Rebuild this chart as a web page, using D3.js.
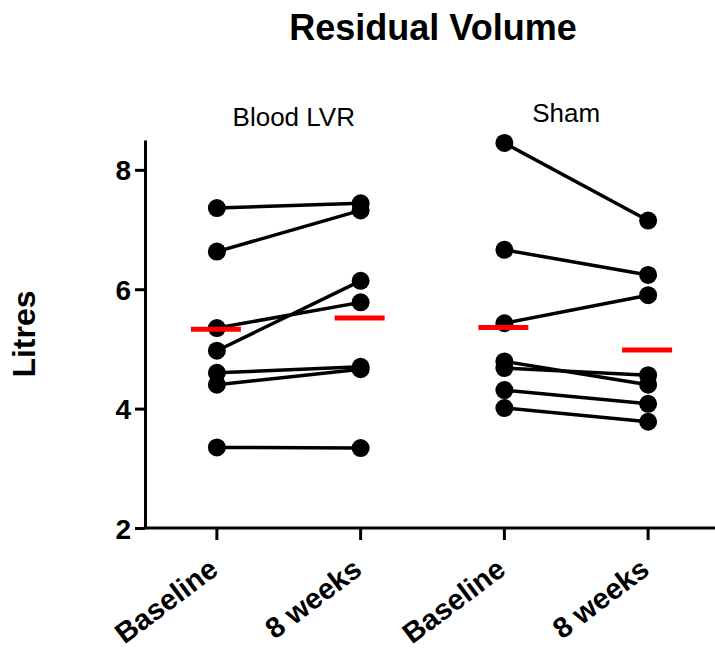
<!DOCTYPE html>
<html>
<head>
<meta charset="utf-8">
<script src="https://cdn.jsdelivr.net/npm/d3@7"></script>
<style>
  body { margin: 0; background: #fff; }
  text { font-family: "Liberation Sans", Arial, sans-serif; }
</style>
</head>
<body>
<div class="chart"></div>
<script>
// values (litres)
var categories = ["Baseline", "8 weeks", "Baseline", "8 weeks"];
var groups = ["Blood LVR", "Sham"];
var lvrBaseline = [7.36, 6.63, 5.35, 4.97, 4.60, 4.40, 3.35];
var lvrWeek8 = [7.44, 7.32, 5.78, 6.14, 4.70, 4.66, 3.34];
var shamBaseline = [8.45, 6.66, 5.43, 4.79, 4.68, 4.31, 4.01];
var shamWeek8 = [7.15, 6.24, 5.90, 4.40, 4.56, 4.08, 3.78];
var lvrMeans = [5.33, 5.52];
var shamMeans = [5.36, 4.98];
var yTicks = [2, 4, 6, 8];

var width = 715,
    height = 650;

var svg = d3.select(".chart")
    .append("svg")
    .attr("width", width)
    .attr("height", height);

var x = d3.scaleBand()
    .domain([0, 1, 2, 3])
    .range([145, 720]);

var y = d3.scaleLinear()
    .domain([2, 8.5])
    .range([528, 140]);

function cx(i) {
    return x(i) + x.bandwidth() / 2;
}

// pairs: [category index of baseline, baseline value, follow-up value]
var pairs = [];
lvrBaseline.forEach(function (v, i) { pairs.push([0, v, lvrWeek8[i]]); });
shamBaseline.forEach(function (v, i) { pairs.push([2, v, shamWeek8[i]]); });

var points = [];
pairs.forEach(function (p) {
    points.push([p[0], p[1]]);
    points.push([p[0] + 1, p[2]]);
});

var means = [[0, lvrMeans[0]], [1, lvrMeans[1]], [2, shamMeans[0]], [3, shamMeans[1]]];

// title
svg.append("text")
    .attr("x", 433)
    .attr("y", 40)
    .attr("text-anchor", "middle")
    .style("font-size", "36px")
    .style("font-weight", "bold")
    .text("Residual Volume");

// group labels (shifted a little off the group centre, like the original)
var groupShift = [5, -10];
svg.selectAll(".group")
    .data(groups)
    .enter()
    .append("text")
    .attr("class", "group")
    .attr("x", function (d, i) { return (cx(i * 2) + cx(i * 2 + 1)) / 2 + groupShift[i]; })
    .attr("y", function (d, i) { return i == 0 ? 126 : 122; })
    .attr("text-anchor", "middle")
    .style("font-size", "26px")
    .text(function (d) { return d; });

// y axis
var yAxis = svg.append("g")
    .attr("transform", "translate(145,0)")
    .call(d3.axisLeft(y).tickValues(yTicks).tickSize(10).tickSizeOuter(0).tickFormat(d3.format("d")));
yAxis.select(".domain").attr("stroke-width", 3);
yAxis.selectAll(".tick line").attr("stroke-width", 3);
yAxis.selectAll(".tick text")
    .attr("x", -14)
    .attr("dy", "0.36em")
    .style("font-size", "28px")
    .style("font-weight", "bold")
    .style("font-family", "'Liberation Sans', Arial, sans-serif")
    .attr("fill", "#000");

// x axis
var xAxis = svg.append("g")
    .attr("transform", "translate(0,528)")
    .call(d3.axisBottom(x).tickSize(12).tickSizeOuter(0).tickFormat(function (d) { return categories[d]; }));
xAxis.select(".domain").attr("stroke-width", 3).attr("d", "M143.5,0H715");
xAxis.selectAll(".tick line").attr("stroke-width", 3);
xAxis.selectAll(".tick text")
    .attr("x", 0)
    .attr("y", 0)
    .attr("dy", 0)
    .attr("text-anchor", "end")
    .attr("transform", "translate(3,45) rotate(-37)")
    .style("font-size", "29px")
    .style("font-weight", "bold")
    .style("font-family", "'Liberation Sans', Arial, sans-serif")
    .attr("fill", "#000");

// y title
svg.append("text")
    .attr("transform", "translate(35,334) rotate(-90)")
    .attr("text-anchor", "middle")
    .style("font-size", "32px")
    .style("font-weight", "bold")
    .text("Litres");

// paired lines
svg.append("g")
    .selectAll("line")
    .data(pairs)
    .enter()
    .append("line")
    .attr("x1", function (d) { return cx(d[0]); })
    .attr("y1", function (d) { return y(d[1]); })
    .attr("x2", function (d) { return cx(d[0] + 1); })
    .attr("y2", function (d) { return y(d[2]); })
    .attr("stroke", "#000")
    .attr("stroke-width", 3.5);

svg.append("g")
    .selectAll("circle")
    .data(points)
    .enter()
    .append("circle")
    .attr("cx", function (d) { return cx(d[0]); })
    .attr("cy", function (d) { return y(d[1]); })
    .attr("r", 9)
    .attr("fill", "#000");

// mean bars
svg.append("g")
    .selectAll("line")
    .data(means)
    .enter()
    .append("line")
    .attr("x1", function (d) { return cx(d[0]) - 26; })
    .attr("x2", function (d) { return cx(d[0]) + 24; })
    .attr("y1", function (d) { return y(d[1]); })
    .attr("y2", function (d) { return y(d[1]); })
    .attr("stroke", "#ff0000")
    .attr("stroke-width", 5);
</script>
</body>
</html>
